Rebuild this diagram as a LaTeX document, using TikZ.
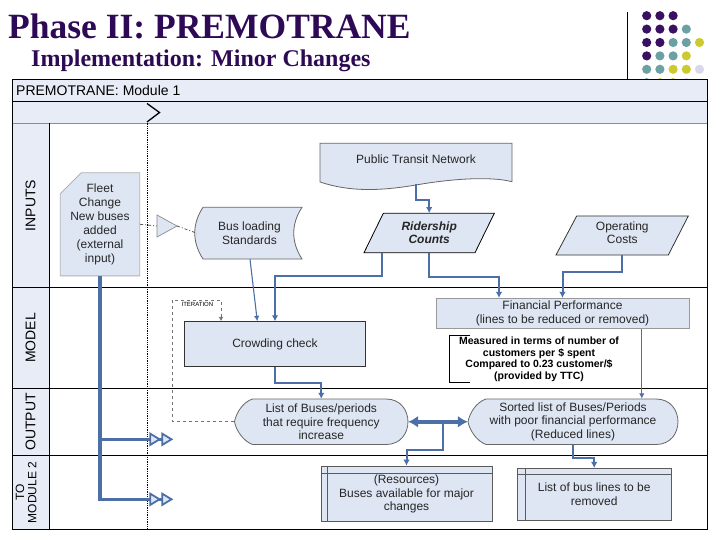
\documentclass[tikz,border=0pt]{standalone}
\usepackage{fontspec}
\setmainfont{Liberation Sans}
\newfontfamily\titleserif{Liberation Serif}
\usetikzlibrary{arrows.meta,shapes.misc}
\definecolor{titlepurple}{RGB}{46,10,86}
\definecolor{dotpurple}{RGB}{58,16,98}
\definecolor{dotteal}{RGB}{108,160,162}
\definecolor{dotyellow}{RGB}{204,202,48}
\definecolor{dotlav}{RGB}{216,216,234}
\definecolor{lanefill}{RGB}{231,236,246}
\definecolor{boxfill}{RGB}{222,230,243}
\definecolor{flowblue}{RGB}{76,112,166}
\definecolor{edgegray}{RGB}{90,90,90}
\begin{document}
\begin{tikzpicture}[x=1pt,y=-1pt,
    txt/.style={font=\fontsize{12}{13.5}\selectfont,text=black!85,align=center,inner sep=0pt},
    box/.style={txt,draw=edgegray,fill=boxfill,line width=0.8pt},
    shapeline/.style={draw=black!60,fill=boxfill,line width=0.8pt},
    lanelabel/.style={font=\fontsize{14}{15}\selectfont,rotate=90,align=center,inner sep=0pt},
    flow/.style={draw=flowblue,line width=2pt,-{Latex[length=6,width=6.5]}},
    thinflow/.style={draw=flowblue,line width=1.1pt,-{Latex[length=5.5,width=5.5]}},
    bigflow/.style={draw=flowblue,line width=3.5pt},
    outarrow/.style={bigflow,-{Triangle[length=12,width=14,line width=1.8pt,fill=boxfill]Triangle[length=12,width=14,line width=1.8pt,fill=boxfill]}},
    iter/.style={draw=black!55,dashed,line width=0.8pt,-{Latex[length=4.5,width=4.5]}},
    feed/.style={draw=black!65,line width=0.8pt,dash pattern=on 3pt off 2pt on 1pt off 2pt}]
  \useasboundingbox (0,0) rectangle (720,540);

  \node[anchor=base west,inner sep=0pt,text=titlepurple,font=\titleserif\bfseries\fontsize{35.5}{36}\selectfont] (title) at (8,38.5) {Phase II: PREMOTRANE};
  \node[anchor=base west,inner sep=0pt,text=titlepurple,font=\titleserif\bfseries\fontsize{24}{25}\selectfont] (subtitle) at (31,66.5) {Implementation: Minor Changes};
  \draw[line width=1pt] (627.3,12) -- (627.3,79);
  \foreach \c/\r/\col in {0/0/dotpurple,1/0/dotpurple,2/0/dotpurple,
      0/1/dotpurple,1/1/dotpurple,2/1/dotpurple,3/1/dotteal,
      0/2/dotpurple,1/2/dotpurple,2/2/dotteal,3/2/dotteal,4/2/dotyellow,
      0/3/dotpurple,1/3/dotteal,2/3/dotteal,3/3/dotyellow,
      0/4/dotteal,1/4/dotteal,2/4/dotyellow,3/4/dotyellow,4/4/dotlav,
      0/5/dotteal,1/5/dotyellow,2/5/dotyellow,3/5/dotlav}
    \fill[\col] (646.7+13.2*\c,15.7+13.4*\r) circle (4.6);

  \fill[white] (12,79) rectangle (707,529);
  \fill[lanefill] (12,79) rectangle (707,123.3);
  \fill[lanefill] (12,123.3) rectangle (49,529);
  \draw[black!45] (12,123.3) -- (707,123.3);
  \draw (12,101.7) -- (707,101.7);
  \foreach \y in {287.5,388.3,455.5}
    \draw (12,\y) -- (707,\y);
  \draw (49,123.3) -- (49,529);
  \draw (12,79) rectangle (707,529);
  \node[anchor=base west,inner sep=0pt,font=\fontsize{14}{15}\selectfont] (modhead) at (16,95.5) {PREMOTRANE: Module 1};
  \draw[line width=1.3pt] (147,103.5) -- (159.5,112.5) -- (147,122);
  \draw[line width=1.3pt,densely dotted] (147.5,123.3) -- (147.5,529);

  \node[lanelabel] (inputs) at (30.5,205.4) {INPUTS};
  \node[lanelabel] (model) at (30.5,337.9) {MODEL};
  \node[lanelabel] (output) at (30.5,421.9) {OUTPUT};
  \node[lanelabel,font=\fontsize{12}{12.3}\selectfont] (tomodule) at (26.2,492.5) {TO\\MODULE 2};

  \node[box,draw=black!30,chamfered rectangle,chamfered rectangle corners=north west,
    chamfered rectangle xsep=10,chamfered rectangle ysep=11,font=\fontsize{12}{14}\selectfont,
    minimum width=76.6,minimum height=90] (fleet) at (100,224.3) {Fleet\\Change\\New buses\\added\\(external\\input)};
  \draw[draw=black!45,fill=boxfill,line width=0.7pt] (157,215) -- (177,226) -- (157,237) -- cycle;
  \coordinate (mergein) at (157,226);
  \coordinate (mergeout) at (177,226);
  \draw[shapeline] (203,207.3) -- (302,207.3) .. controls (291,224) and (291,242) .. (302,259)
    -- (203,259) .. controls (192,242) and (192,224) .. (203,207.3) -- cycle;
  \node[txt,minimum width=105,minimum height=51.7] (bus) at (249.5,233.2) {Bus loading\\Standards};
  \draw[feed] (fleet.east) -- (mergein);
  \draw[feed] (mergeout) -- (bus.west);

  \draw[shapeline] (320,182) -- (320,143.3) -- (512,143.3) -- (512,181.7)
    .. controls (490,176) and (450,179) .. (416,185) .. controls (380,191) and (350,192) .. (320,182) -- cycle;
  \node[txt,minimum width=192,minimum height=48.4] (ptn) at (416,159.3) {Public Transit Network};
  \draw[shapeline,draw=black] (383.3,213.3) -- (494.3,213.3) -- (475,252.7) -- (364,252.7) -- cycle;
  \node[txt,font=\bfseries\itshape\fontsize{12}{12.7}\selectfont,minimum width=111,minimum height=39.4] (rid) at (429.2,233) {Ridership\\Counts};
  \draw[shapeline,draw=black!80] (576.7,216) -- (688.3,216) -- (668.3,255) -- (556,255) -- cycle;
  \node[txt,font=\fontsize{12}{13}\selectfont,minimum width=112,minimum height=44] (op) at (622.3,233) {Operating\\Costs};

  \node[box,draw=black!80,minimum width=181,minimum height=44.6] (crowd) at (275,344) {Crowding check};
  \node[box,draw=black!40,font=\fontsize{12}{14}\selectfont,minimum width=253,minimum height=30] (fin) at (562.5,313.3) {Financial Performance\\(lines to be reduced or removed)};
  \draw[line width=0.7pt] (470,335) -- (449.5,335) -- (449.5,382.7) -- (470,382.7);
  \node[txt,text=black,font=\bfseries\fontsize{10.5}{11.7}\selectfont] (note) at (539,359.2) {Measured in terms of number of\\customers per \$ spent\\Compared to 0.23 customer/\$\\(provided by TTC)};
  \coordinate (itertop) at (172.6,300);
  \node[inner sep=0pt,font=\fontsize{6}{6}\selectfont] (iterlabel) at (197.4,304.3) {ITERATION};

  \draw[shapeline] (252.5,399) -- (386,399) .. controls (415.3,399) and (415.3,444.5) .. (386,444.5)
    -- (252.5,444.5) .. controls (243,441) and (236,430) .. (234.5,421.75) .. controls (236,413) and (243,402) .. (252.5,399) -- cycle;
  \node[txt,minimum width=173.5,minimum height=45.5] (list) at (321.25,421.75) {List of Buses/periods\\that require frequency\\increase};
  \draw[shapeline] (486,399) -- (656,399) .. controls (685.3,399) and (685.3,444.5) .. (656,444.5)
    -- (486,444.5) .. controls (476.5,441) and (469.5,430) .. (468,421.75) .. controls (469.5,413) and (476.5,402) .. (486,399) -- cycle;
  \node[txt,minimum width=210,minimum height=45.5] (sorted) at (573,421.75) {Sorted list of Buses/Periods\\with poor financial performance\\(Reduced lines)};
  \coordinate (mid) at (442.7,421.75);

  \node[box,minimum width=171,minimum height=55.7] (res) at (406.5,493.9) {(Resources)\\Buses available for major\\changes};
  \draw[edgegray] ([yshift=-7.3pt]res.north west) -- ([yshift=-7.3pt]res.north east);
  \draw[edgegray] ([xshift=7pt]res.north west) -- ([xshift=7pt]res.south west);
  \node[box,minimum width=154.4,minimum height=51.7] (rem) at (594.2,494.2) {List of bus lines to be\\removed};
  \draw[edgegray] ([yshift=-6pt]rem.north west) -- ([yshift=-6pt]rem.north east);
  \draw[edgegray] ([xshift=8.3pt]rem.north west) -- ([xshift=8.3pt]rem.south west);

  \coordinate (out1) at (173.3,439.3);
  \coordinate (out2) at (173.3,499.3);
  \draw[outarrow] (fleet.south) |- (out2);
  \draw[outarrow] (fleet.south |- out1) -- (out1);

  \draw[flow] (ptn.south) -- ++(0,16.5) -| (rid.north);
  \draw[thinflow] ([xshift=0.5pt]bus.south) -- ([xshift=-17.7pt]crowd.north);
  \draw[flow] ([xshift=-47.5pt]rid.south) -- ++(0,23.3) -| (crowd.north);
  \draw[flow] (rid.south) -- ++(0,24) -| ([xshift=-63.5pt]fin.north);
  \draw[flow] (op.south) -- ++(0,16.7) -| (fin.north);
  \draw[thinflow] ([xshift=79.3pt]fin.south) -- ([xshift=79.3pt]fin.south |- sorted.north);
  \draw[flow] (crowd.south) -- ++(0,16.4) -| (list.north);
  \draw[iter] (list.west) -| (itertop) -| ([xshift=-54pt]crowd.north);
  \draw[bigflow,{Latex[length=10,width=12]}-{Latex[length=10,width=12]}] (list.east) -- (sorted.west);
  \draw[flow] (mid) -- ++(0,28.3) -| (res.north);
  \draw[flow] (sorted.south) -- ++(0,13) -| (rem.north);
\end{tikzpicture}
\end{document}
